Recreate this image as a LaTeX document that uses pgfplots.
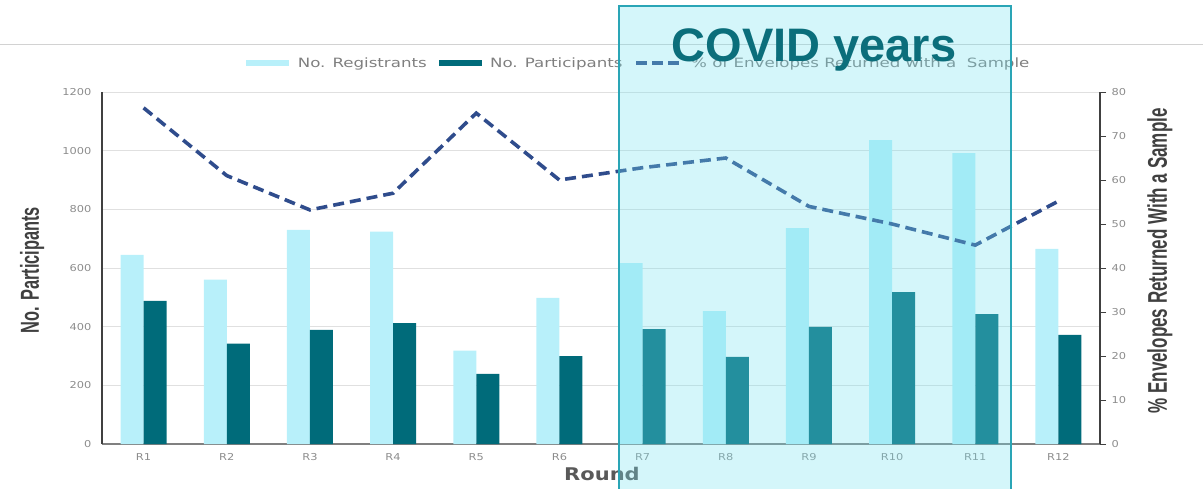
\documentclass[border=0pt]{standalone}
\usepackage{pgfplots}
\usepackage{pgfplotstable}
\pgfplotsset{compat=1.18}
\usepackage{fontspec}
\setmainfont{DejaVu Sans}
\newfontfamily\wide[FakeStretch=1.2]{DejaVu Sans}
\newfontfamily\legfont[FakeStretch=1.3]{DejaVu Sans}
\newfontfamily\narrow[FakeStretch=0.63]{Liberation Sans}
\newfontfamily\covid{Liberation Sans}

\definecolor{regc}{HTML}{B8F0FA}
\definecolor{parc}{HTML}{006B7A}
\definecolor{linec}{HTML}{2F4C8C}
\definecolor{gridc}{HTML}{E0E0E0}
\definecolor{tickc}{HTML}{8C8C8C}
\definecolor{labc}{HTML}{404040}
\definecolor{legc}{HTML}{7F7F7F}
\definecolor{boxc}{RGB}{116,226,239}
\definecolor{boxedge}{HTML}{2AA5B6}
\definecolor{covidtxt}{HTML}{0B6E7B}

% round, registrants, participants, % envelopes returned with a sample
\pgfplotstableread{
idx reg part pct
0 645 488 76.4
1 560 342 61.0
2 730 389 53.2
3 724 412 57.0
4 318 239 75.2
5 498 300 60.0
6 617 392 62.8
7 453 297 65.0
8 736 399 54.0
9 1036 518 50.0
10 992 443 45.2
11 665 372 55.2
}\datatable

\begin{document}
\begin{tikzpicture}
\path[use as bounding box] (0pt,0pt) rectangle (1203pt,488pt);
\draw[gray!35, line width=1pt] (0pt,443pt) -- (1203pt,443pt);

% bars on the left axis
\begin{axis}[
  at={(102pt,44pt)}, anchor=south west,
  scale only axis, width=998pt, height=352pt,
  xmin=-0.5, xmax=11.5, ymin=0, ymax=1200,
  xtick={0,...,11},
  xticklabels={R1,R2,R3,R4,R5,R6,R7,R8,R9,R10,R11,R12},
  ytick={0,200,...,1200},
  axis lines*=left,
  axis line style={-, draw=labc, line width=1.6pt},
  x axis line style={draw=gray, line width=1.3pt},
  ymajorgrids, grid style={gridc, line width=0.9pt},
  major tick length=0pt,
  /pgf/number format/assume math mode=true,
  /pgf/number format/1000 sep={},
  tick label style={font=\wide\fontsize{9.5}{9.5}\selectfont, text=tickc},
  xticklabel style={anchor=north, yshift=-6pt},
  yticklabel style={anchor=east, xshift=-7pt},
  ylabel={\narrow\bfseries\fontsize{26}{26}\selectfont No. Participants},
  every axis y label/.style={at={(axis description cs:-0.0701,0.494)}, rotate=90, anchor=center, text=labc},
  xlabel={\wide\bfseries\fontsize{17.5}{17.5}\selectfont Round},
  every axis x label/.style={at={(axis description cs:0.501,-0.085)}, anchor=center, text=black!65},
  ybar, bar width=23pt,
]
\addplot[fill=regc, draw=none, bar shift=-11.5pt] table[x=idx, y=reg]{\datatable};
\addplot[fill=parc, draw=none, bar shift=11.5pt] table[x=idx, y=part]{\datatable};
\end{axis}

% percentage line on the right axis
\begin{axis}[
  at={(102pt,44pt)}, anchor=south west,
  scale only axis, width=998pt, height=352pt,
  xmin=-0.5, xmax=11.5, ymin=0, ymax=80,
  axis x line=none,
  axis y line*=right,
  axis line style={-, draw=labc, line width=1.6pt},
  ytick={0,10,...,80},
  tick align=outside, major tick length=6pt,
  tick style={draw=labc, line width=1pt},
  /pgf/number format/assume math mode=true,
  tick label style={font=\wide\fontsize{9.5}{9.5}\selectfont, text=tickc},
  yticklabel style={anchor=west, xshift=2pt},
  ylabel={\narrow\bfseries\fontsize{27}{27}\selectfont \% Envelopes Returned With a Sample},
  every axis y label/.style={at={(axis description cs:1.06,0.52)}, rotate=90, anchor=center, text=labc},
  legend columns=3,
  legend cell align=left,
  legend style={at={(axis description cs:0.538,1.082)}, anchor=center, draw=none, fill=none,
    font=\legfont\fontsize{12.8}{12.8}\selectfont, text=legc,
    /tikz/every even column/.append style={column sep=10pt},
    /tikz/every odd column/.append style={column sep=7pt}},
]
\addlegendimage{legend image code/.code={\fill[regc] (0pt,-2.5pt) rectangle (42pt,2.5pt);}}
\addlegendentry{No. Registrants}
\addlegendimage{legend image code/.code={\fill[parc] (0pt,-2.5pt) rectangle (42pt,2.5pt);}}
\addlegendentry{No. Participants}
\addplot[linec, line width=3.6pt, dash pattern=on 11pt off 6pt, mark=none,
  legend image code/.code={\draw[linec, line width=3.6pt, dash pattern=on 11pt off 5pt] (0pt,0pt) -- (44pt,0pt);}]
  table[x=idx, y=pct]{\datatable};
\addlegendentry{\% of Envelopes Returned with a~ Sample}
\end{axis}

% COVID period highlight
\fill[boxc, fill opacity=0.31] (619pt,-5pt) rectangle (1011pt,482pt);
\draw[boxedge, line width=1.3pt] (619pt,-5pt) -- (619pt,482pt) -- (1011pt,482pt) -- (1011pt,-5pt);
\node[anchor=base, text=covidtxt, inner sep=0pt, font=\covid\bfseries\fontsize{47}{47}\selectfont] at (814pt,426pt) {COVID years};
\end{tikzpicture}
\end{document}
